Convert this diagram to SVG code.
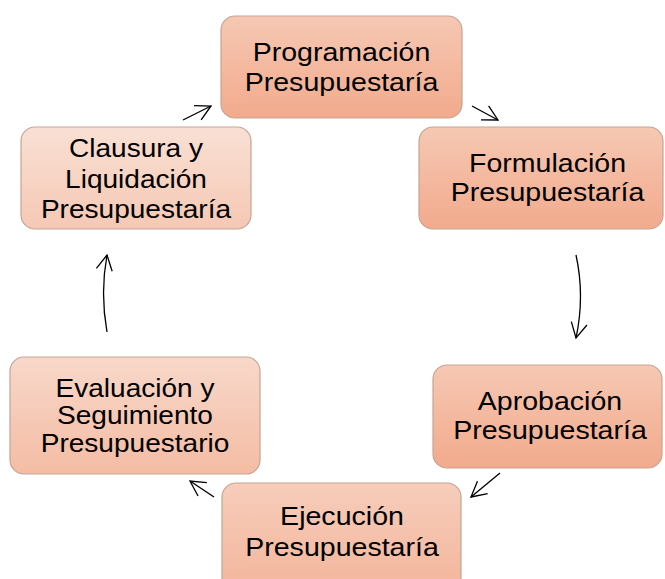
<svg xmlns="http://www.w3.org/2000/svg" width="665" height="579" viewBox="0 0 665 579">
<defs>
<linearGradient id="gA" x1="0" y1="0" x2="0" y2="1"><stop offset="0" stop-color="#f6c8b3"/><stop offset="1" stop-color="#f2aa8c"/></linearGradient>
<linearGradient id="gB" x1="0" y1="0" x2="0" y2="1"><stop offset="0" stop-color="#f9e0d4"/><stop offset="1" stop-color="#f5c8b4"/></linearGradient>
<linearGradient id="gC" x1="0" y1="0" x2="0" y2="1"><stop offset="0" stop-color="#f8d8ca"/><stop offset="1" stop-color="#f4bca4"/></linearGradient>
<linearGradient id="gD" x1="0" y1="0" x2="0" y2="1"><stop offset="0" stop-color="#f7cdbb"/><stop offset="1" stop-color="#f3b59b"/></linearGradient>
<marker id="ah" markerUnits="userSpaceOnUse" markerWidth="30" markerHeight="30" refX="0" refY="0" viewBox="-20 -15 30 30" orient="auto">
<path d="M-15,-8 L0,0 L-15,8" fill="none" stroke="#000" stroke-width="1.3"/>
</marker>
</defs>
<style>
.box{stroke:#c4a596;stroke-width:1.2}
.t{font-family:"Liberation Sans",Arial,sans-serif;font-size:25.5px;fill:#000;text-anchor:middle}
.c{fill:none;stroke:#000;stroke-width:1.3;marker-end:url(#ah)}
</style>
<g id="programacion">
<rect class="box" x="221" y="16" width="241" height="102" rx="14" fill="url(#gA)"/>
<text class="t" transform="translate(341.5,0) scale(1.12,1)"><tspan x="0" y="61">Programación</tspan><tspan x="0" y="91">Presupuestaría</tspan></text>
</g>
<g id="formulacion">
<rect class="box" x="419" y="127" width="244" height="102" rx="14" fill="url(#gA)"/>
<text class="t" transform="translate(547.5,0) scale(1.12,1)"><tspan x="0" y="172">Formulación</tspan><tspan x="0" y="201">Presupuestaría</tspan></text>
</g>
<g id="aprobacion">
<rect class="box" x="433" y="365" width="229" height="103" rx="14" fill="url(#gA)"/>
<text class="t" transform="translate(550,0) scale(1.12,1)"><tspan x="0" y="410">Aprobación</tspan><tspan x="0" y="439">Presupuestaría</tspan></text>
</g>
<g id="ejecucion">
<rect class="box" x="222" y="483" width="239" height="110" rx="14" fill="url(#gD)"/>
<text class="t" transform="translate(342,0) scale(1.12,1)"><tspan x="0" y="525">Ejecución</tspan><tspan x="0" y="556">Presupuestaría</tspan></text>
</g>
<g id="evaluacion">
<rect class="box" x="10" y="357" width="250" height="117" rx="14" fill="url(#gC)"/>
<text class="t" transform="translate(135,0) scale(1.1,1)"><tspan x="0" y="397">Evaluación y</tspan><tspan x="0" y="424">Seguimiento</tspan><tspan x="0" y="452">Presupuestario</tspan></text>
</g>
<g id="clausura">
<rect class="box" x="21" y="127" width="230" height="102" rx="14" fill="url(#gB)"/>
<text class="t" transform="translate(136,0) scale(1.1,1)"><tspan x="0" y="157">Clausura y</tspan><tspan x="0" y="188">Liquidación</tspan><tspan x="0" y="218">Presupuestaría</tspan></text>
</g>
<g id="connectors">
<path class="c" d="M183,120 L211,106"/>
<path class="c" d="M472,106 L498,120"/>
<path class="c" d="M576,255 Q585,296 576,338"/>
<path class="c" d="M500,473 L471,497"/>
<path class="c" d="M214,497 L190,481"/>
<path class="c" d="M107,332 Q100,293 107,255"/>
</g>
</svg>
